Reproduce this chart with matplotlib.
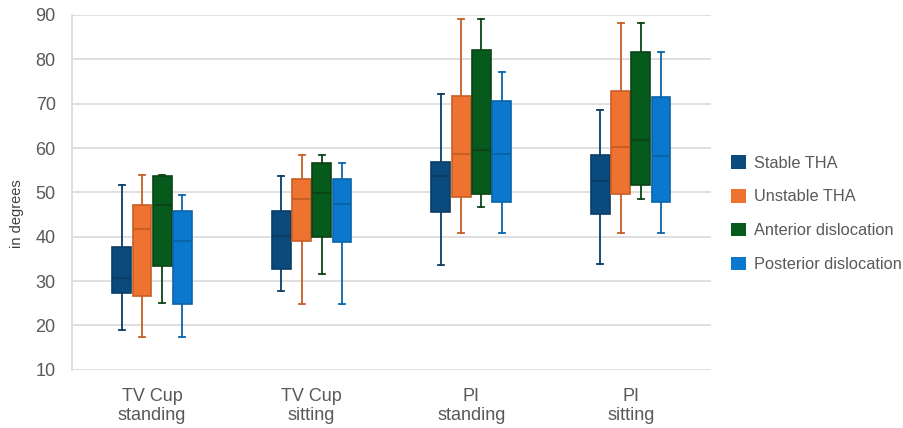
import matplotlib.pyplot as plt
import numpy as np

plt.rcParams['font.family'] = ['Liberation Sans', 'DejaVu Sans']

categories = ['TV Cup\nstanding', 'TV Cup\nsitting', 'PI\nstanding', 'PI\nsitting']
groups = ['Stable THA', 'Unstable THA', 'Anterior dislocation', 'Posterior dislocation']
colors = ['#0a4a7c', '#ee7330', '#065a1c', '#0a78cc']
edges = ['#0a3d66', '#c85e26', '#0b4416', '#0a64aa']

# whisker low, q1, median, q3, whisker high (per category)
stable = [[18.9, 27.4, 30.8, 37.6, 51.7],
          [27.8, 32.8, 40.2, 45.9, 53.6],
          [33.6, 45.5, 53.6, 56.9, 72.1],
          [33.8, 45.1, 52.6, 58.5, 68.6]]
unstable = [[17.3, 26.7, 41.8, 47.2, 54.0],
            [24.9, 39.0, 48.5, 53.0, 58.5],
            [40.8, 48.9, 58.7, 71.7, 89.1],
            [40.9, 49.6, 60.2, 72.9, 88.1]]
anterior = [[25.0, 33.4, 47.2, 53.7, 53.9],
            [31.7, 40.0, 49.8, 56.6, 58.5],
            [46.7, 49.6, 59.6, 82.1, 89.1],
            [48.5, 51.7, 61.8, 81.7, 88.1]]
posterior = [[17.3, 24.9, 39.0, 45.9, 49.5],
             [24.9, 38.8, 47.3, 53.0, 56.6],
             [40.8, 47.9, 58.6, 70.7, 77.2],
             [40.9, 47.8, 58.3, 71.4, 81.7]]
series = [stable, unstable, anterior, posterior]

fig = plt.figure(figsize=(9.04, 4.28), dpi=100)
ax = fig.add_axes([0.080, 0.136, 0.706, 0.829])

x = np.arange(len(categories))
offsets = [-0.19, -0.063, 0.063, 0.19]
width = 0.118

for vals, off, c, ec, name in zip(series, offsets, colors, edges, groups):
    stats = [dict(whislo=v[0], q1=v[1], med=v[2], q3=v[3], whishi=v[4], fliers=[])
             for v in vals]
    ax.bxp(stats, positions=x + off, widths=width, patch_artist=True,
           showfliers=False, capwidths=width * 0.32,
           boxprops=dict(facecolor=c, edgecolor=ec, linewidth=1.2),
           medianprops=dict(color=ec, linewidth=1.5),
           whiskerprops=dict(color=ec, linewidth=1.3),
           capprops=dict(color=ec, linewidth=1.3))
    ax.bar(0, 0, color=c, label=name)

ax.set_xlim(-0.5, 3.5)
ax.set_ylim(10, 90)
ax.set_yticks(np.arange(10, 91, 10))
ax.set_xticks(x)
ax.set_xticklabels(categories, fontsize=13, color='#595959', linespacing=1.2)
ax.tick_params(axis='y', labelsize=13, labelcolor='#595959', length=0, pad=12)
ax.tick_params(axis='x', length=0, pad=13)
ax.grid(axis='y', color='#d9d9d9', linewidth=1.2)
ax.set_axisbelow(True)
for s in ['top', 'right', 'bottom']:
    ax.spines[s].set_visible(False)
ax.spines['left'].set_color('#d9d9d9')
ax.spines['left'].set_linewidth(1.2)
ax.set_ylabel('in degrees', fontsize=10.5, color='#404040')
ax.yaxis.set_label_coords(-0.075, 0.44)

ax.legend(loc='center left', bbox_to_anchor=(1.009, 0.44), frameon=False,
          fontsize=11.8, labelcolor='#595959', handlelength=0.9, handleheight=0.9,
          handletextpad=0.5, labelspacing=1.12)

fig.savefig('out.png', dpi=100)
